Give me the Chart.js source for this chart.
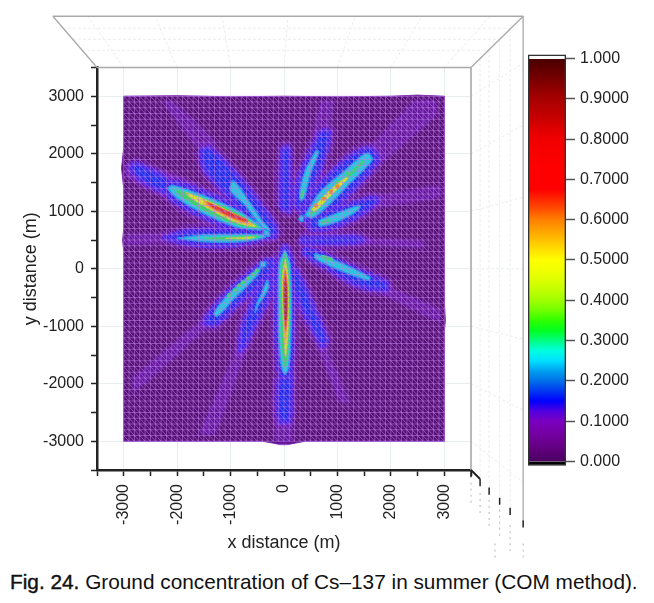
<!DOCTYPE html>
<html>
<head>
<meta charset="utf-8">
<script src="https://cdn.jsdelivr.net/npm/chart.js@4"></script>
<style>
    html, body { margin: 0; padding: 0; background: #fff; }
    body { width: 654px; height: 603px; position: relative; overflow: hidden; }
    #surface { position: absolute; left: 0; top: 0; filter: blur(0.5px); }
    #colorbar { position: absolute; left: 528px; top: 40px; filter: blur(0.3px); }
    #caption { position: absolute; left: 10px; top: 570px; white-space: nowrap; color: #111;
        font: 20.8px "Liberation Sans", sans-serif; }
    #caption b { font-weight: 400; -webkit-text-stroke: 0.4px #111; }
</style>
</head>
<body>
<canvas id="surface" width="654" height="565"></canvas>
<canvas id="colorbar" width="126" height="440"></canvas>
<div id="caption"><b>Fig. 24.</b> Ground concentration of Cs–137 in summer (COM method).</div>
<script>
// contour outlines in metres: [x, y]
const groundOutline = [[-3000,3000],[-2000,3010],[-1000,2990],[0,3000],[1000,2990],[2000,3000],[2500,3020],[3000,3000],[3000,2000],[3010,500],[3000,-600],[3020,-900],[3000,-1100],[3000,-3000],[1000,-3000],[400,-3000],[100,-3050],[-100,-3050],[-400,-3000],[-3000,-3000],[-3000,300],[-3020,500],[-3000,700],[-3000,1400],[-3040,1750],[-3000,2100]];

const faintRays = [
    [[-2950,1850],[-2000,1620],[-300,700],[-300,600],[-2000,1200],[-2950,1600]],
    [[-2250,2900],[-2100,2900],[-1300,2200],[-1500,2000]],
    [[1500,2000],[2450,2900],[2800,2920],[2850,2700],[1800,1850]],
    [[550,2300],[700,2900],[900,2900],[800,2300]],
    [[-2940,580],[-2200,600],[-2200,470],[-2940,430]],
    [[-1400,-800],[-2800,-1900],[-2800,-2120],[-1500,-1050]],
    [[-850,-1350],[-1550,-2850],[-1300,-2850],[-700,-1350]],
    [[750,-1300],[1200,-2300],[1050,-2300],[650,-1350]],
    [[1850,-280],[2900,-720],[2900,-900],[1850,-420]],
    [[1550,1220],[2900,1430],[2900,1250],[1700,1080]],
    [[1300,530],[2600,470],[2600,380],[1300,450]],
    [[-110,-1900],[130,-1900],[150,-3000],[0,-3030],[-160,-3000]]
];

const blueBands = [
    [[-2300,1420],[-2080,1510],[-1520,1350],[-880,1090],[-400,820],[-330,680],[-450,620],[-880,660],[-1520,900],[-2050,1170]],
    [[-2850,1830],[-2700,1810],[-2200,1560],[-2200,1350],[-2500,1440],[-2850,1700]],
    [[-1570,2060],[-1390,2100],[-820,1570],[-170,760],[-150,580],[-360,580],[-970,1190],[-1480,1710]],
    [[-2270,540],[-1800,660],[-1000,680],[-350,650],[-250,560],[-1000,400],[-1800,430]],
    [[320,930],[600,1400],[1140,1890],[1520,2100],[1670,2060],[1760,1890],[1330,1400],[860,980],[520,770]],
    [[710,2410],[860,2370],[710,1800],[450,1280],[300,1040],[210,1100],[260,1530],[490,2050]],
    [[490,900],[1140,1100],[1650,1240],[1760,1190],[1420,930],[860,700],[490,700]],
    [[390,370],[670,290],[1420,-30],[1930,-250],[1890,-370],[1370,-290],[770,30],[390,240]],
    [[300,530],[1300,560],[1500,500],[1200,440],[350,450]],
    [[-70,1060],[-60,1700],[-20,2100],[90,2100],[110,1600],[100,1000]],
    [[20,430],[170,100],[190,-500],[170,-1200],[130,-1800],[60,-2050],[-10,-2050],[-90,-1800],[-140,-1200],[-160,-500],[-130,100]],
    [[-90,-1900],[120,-1900],[130,-2300],[90,-2650],[-70,-2650],[-130,-2300]],
    [[-300,180],[-190,110],[-360,-200],[-820,-580],[-1290,-980],[-1480,-930],[-1290,-640],[-820,-200]],
    [[-360,-110],[-220,-200],[-300,-550],[-540,-980],[-730,-1330],[-820,-1420],[-770,-980],[-540,-460]],
    [[210,10],[340,-200],[580,-720],[800,-1240],[710,-1330],[450,-900],[210,-410],[110,-110]]
];

const cyanBands = [
    [[-2190,1400],[-2080,1450],[-1520,1280],[-880,1020],[-450,760],[-400,690],[-450,670],[-880,720],[-1520,965],[-2000,1225]],
    [[-970,1540],[-860,1450],[-410,840],[-260,670],[-360,670],[-730,1100],[-1010,1365]],
    [[-2000,530],[-1500,590],[-800,600],[-350,590],[-360,540],[-800,470],[-1500,470]],
    [[390,930],[670,1330],[1140,1710],[1460,1970],[1570,2010],[1650,1890],[1240,1490],[770,1050],[520,880]],
    [[600,2060],[650,2030],[490,1630],[380,1240],[320,1190],[300,1370],[410,1740]],
    [[640,840],[1140,1020],[1420,1100],[1390,1020],[1050,840],[670,740]],
    [[580,270],[1050,110],[1610,-150],[1570,-200],[1050,-30],[580,180]],
    [[20,330],[110,100],[140,-500],[130,-1200],[90,-1700],[20,-1840],[-50,-1700],[-100,-1200],[-110,-500],[-90,100]],
    [[-540,-30],[-430,40],[-490,-100],[-920,-510],[-1250,-830],[-1310,-770],[-1010,-410]],
    [[-320,-200],[-280,-290],[-360,-460],[-490,-640],[-540,-760],[-520,-640],[-410,-410]],
    [[-380,700],[-280,640],[-270,570],[-370,590]],
    [[-440,120],[-350,120],[-350,40],[-440,40]],
    [[310,930],[370,900],[340,820],[280,860]]
];

const greenBands = [
    [[-2050,1390],[-1500,1230],[-880,980],[-480,740],[-470,700],[-880,760],[-1500,1010],[-1950,1270]],
    [[-1500,540],[-800,570],[-450,570],[-480,540],[-800,500],[-1400,505]],
    [[470,965],[790,1310],[1240,1680],[1460,1870],[1520,1870],[1120,1500],[770,1180],[520,930]],
    [[340,1365],[375,1365],[340,1225],[300,1240]],
    [[710,825],[860,860],[860,825],[710,775]],
    [[710,235],[900,185],[900,130],[710,185]],
    [[20,300],[90,50],[110,-500],[100,-1200],[60,-1600],[20,-1740],[-20,-1600],[-60,-1200],[-70,-500],[-50,50]]
];

const yellowBands = [
    [[-1830,1330],[-1400,1170],[-880,930],[-520,735],[-880,800],[-1400,1040],[-1800,1270]],
    [[-1100,530],[-700,550],[-550,550],[-700,520]],
    [[520,1035],[860,1365],[1140,1575],[1200,1575],[860,1260],[580,1000]],
    [[25,170],[70,-100],[85,-500],[75,-1100],[30,-1530],[0,-1200],[-30,-500],[-30,-100]]
];

const orangeBands = [
    [[-1500,1190],[-880,890],[-600,760],[-880,830],[-1450,1090]],
    [[25,40],[60,-200],[70,-600],[55,-1000],[30,-1290],[10,-1000],[-15,-500],[-15,-150]]
];

const redBands = [
    [[-1440,1165],[-1000,980],[-690,850],[-680,810],[-1000,900],[-1400,1100]],
    [[25,-30],[60,-300],[60,-800],[30,-1080],[5,-800],[-10,-300]]
];

const darkBands = [
    [[30,-200],[50,-500],[45,-800],[25,-900],[10,-700],[5,-400]]
];

const greenSpots = [[-510,-30],[-580,-100],[-670,-165],[-770,-235],[-840,-290],[-920,-375],[-1030,-460],[1000,1500],[1200,1660]];
const orangeSpots = [[600,1100],[750,1220],[880,1340],[1000,1430]];

// colour bar, bottom to top
const barColors = ['#4a0062','#5c0078','#6c0090','#7600a8','#7a00c0','#5000e0','#0000ff','#0038f0','#0070e8','#00a0f0',
    '#00e0ff','#00ffe0','#00ff80','#00ff20','#30ff00','#70ff00','#a0ff00','#c0ff00','#dcff00','#f0ff00',
    '#ffff00','#ffe000','#ffc000','#ffa000','#ff8000','#ff5000','#ff2800','#ff0000','#ff0000','#ff0000',
    '#fb0000','#f60000','#f00000','#e00000','#c80000','#b80000','#a80000','#900000','#780000','#600000','#480000'];
const barTicks = [0, 0.1, 0.2, 0.3, 0.4, 0.5, 0.6, 0.7, 0.8, 0.9, 1];

// walls of the 3D box, in metres
const boxEdges = [
    [[-3500,3500],[3500,3500]],
    [[-3500,3500],[-4326,4391]],
    [[-4326,4391],[4476,4391]],
    [[4476,4391],[3500,3500]],
    [[3500,3500],[3500,-3500]],
    [[4476,4391],[4476,-4374]]
];
const boxFloorEdge = [[3500,-3500],[3670,-3656],[3839,-3805],[4036,-3981],[4232,-4157],[4476,-4374]];
const wallLines = [
    [[-3000,3500],[-3670,4391]], [[-2000,3500],[-2416,4391]], [[-1000,3500],[-1161,4391]], [[0,3500],[75,4391]],
    [[1000,3500],[1330,4391]], [[2000,3500],[2584,4391]], [[3000,3500],[3858,4391]],
    [[-4139,4183],[4251,4183]], [[-3951,3991],[4045,3991]], [[-3783,3800],[3839,3800]],
    [[3500,3000],[4476,3574]], [[3500,2000],[4476,2496]], [[3500,1000],[4476,1243]], [[3500,0],[4476,0]],
    [[3500,-1000],[4476,-1226]], [[3500,-2000],[4476,-2461]], [[3500,-3000],[4476,-3713]],
    [[3670,3650],[3670,-3656]], [[3839,3805],[3839,-3805]], [[4036,3986],[4036,-3981]], [[4232,4174],[4232,-4157]]
];
const stubLabels = [
    [[3500,-3720],[3500,-4140]], [[3670,-3900],[3670,-4300]], [[3839,-4020],[3839,-4480]], [[4036,-4190],[4036,-4680]],
    [[4232,-4460],[4232,-4930]], [[4476,-4780],[4476,-5030]], [[3950,-4780],[3950,-5030]]
];

const meshStep = 100;
const meshEdge = 3000;

function toPoints(pairs) {
    return pairs.map(p => ({ x: p[0], y: p[1] }));
}

function band(pairs, color, halo, haloWidth, tension) {
    return {
        data: toPoints(pairs.concat([pairs[0]])),
        showLine: true,
        fill: 'shape',
        tension: tension === undefined ? 0.3 : tension,
        backgroundColor: color,
        borderColor: halo || color,
        borderWidth: haloWidth || 1,
        pointRadius: 0
    };
}

function plainLine(pairs, color, width, dash) {
    return {
        data: toPoints(pairs),
        showLine: true,
        fill: false,
        clip: false,
        borderColor: color,
        borderWidth: width,
        borderDash: dash || [],
        pointRadius: 0
    };
}

function spots(pairs, color, size) {
    return { data: toPoints(pairs), showLine: false, pointRadius: size, pointBackgroundColor: color, pointBorderWidth: 0 };
}

// triangle wire frame over the surface
function meshLines() {
    const pts = [];
    const gap = { x: NaN, y: NaN };
    for (let k = -meshEdge; k <= meshEdge; k += meshStep) {
        pts.push({ x: -meshEdge, y: k }, { x: meshEdge, y: k }, gap);
        pts.push({ x: k, y: -meshEdge }, { x: k, y: meshEdge }, gap);
    }
    for (let c = -2 * meshEdge; c <= 2 * meshEdge; c += meshStep) {
        if (c >= 0) pts.push({ x: c - meshEdge, y: meshEdge }, { x: meshEdge, y: c - meshEdge }, gap);
        else pts.push({ x: -meshEdge, y: c + meshEdge }, { x: c + meshEdge, y: -meshEdge }, gap);
    }
    return { data: pts, showLine: true, fill: false, spanGaps: false, borderColor: 'rgba(190,130,235,0.55)', borderWidth: 1, pointRadius: 0 };
}

const layers = [];
wallLines.forEach(l => layers.push(plainLine(l, '#e9edef', 1, [3, 2])));
stubLabels.forEach(l => layers.push(plainLine(l, '#b8b8b8', 1, [2, 4])));
boxEdges.forEach((l, i) => layers.push(plainLine(l, '#a9a9a9', i === 4 ? 1.6 : 1.3)));
layers.push(plainLine(boxFloorEdge, '#222', 2));
boxFloorEdge.forEach(p => layers.push(plainLine([p, [p[0], p[1] - 125]], '#222', 1.5)));
layers.push(band(groundOutline, '#560f72', '#7a2ab0', 1, 0));
faintRays.forEach(r => layers.push(band(r, 'rgba(118,34,210,0.42)', 'rgba(118,34,210,0.2)', 6, 0.1)));
blueBands.forEach(r => layers.push(band(r, 'rgba(118,34,220,0.6)', 'rgba(118,34,220,0.32)', 13)));
blueBands.forEach(r => layers.push(band(r, '#1a2cec', 'rgba(70,34,232,0.8)', 5)));
cyanBands.forEach(r => layers.push(band(r, '#1ccbdc', '#1690ea', 1.5)));
greenBands.forEach(r => layers.push(band(r, '#2adc58', '#22e0a8', 1)));
layers.push(spots(greenSpots, '#34e050', 2));
yellowBands.forEach(r => layers.push(band(r, '#e0e824', '#a8e830', 1)));
orangeBands.forEach(r => layers.push(band(r, '#f09a22', '#f0c020', 1)));
layers.push(spots(orangeSpots, '#ee8a24', 2.2));
redBands.forEach(r => layers.push(band(r, '#e42c20', '#ee6a20', 1)));
darkBands.forEach(r => layers.push(band(r, '#a62a1c')));
layers.push(meshLines());
layers.forEach((d, i) => { d.order = layers.length - i; });

function axisTick(value) {
    return value % 1000 === 0 ? String(value) : '';
}

function majorGrid(ctx) {
    return ctx.tick && ctx.tick.value % 1000 === 0 && Math.abs(ctx.tick.value) < 3500 ? '#e8edf0' : 'rgba(0,0,0,0)';
}

const axisFont = { family: '"Liberation Sans", Arial, sans-serif', size: 16 };
const titleFont = { family: '"Liberation Sans", Arial, sans-serif', size: 18 };

new Chart(document.getElementById('surface'), {
    type: 'scatter',
    data: { datasets: layers },
    options: {
        responsive: false,
        animation: false,
        layout: { padding: { top: 67.5, right: 183, left: 0, bottom: 0 } },
        plugins: { legend: { display: false }, tooltip: { enabled: false } },
        scales: {
            x: {
                min: -3500, max: 3500,
                afterFit: s => { s.height = 95; },
                border: { color: '#222', width: 2.5 },
                grid: { color: majorGrid, tickColor: '#222', tickWidth: 1.5, tickLength: 6 },
                ticks: { stepSize: 500, autoSkip: false, minRotation: 90, maxRotation: 90, padding: 8, color: '#222', font: axisFont, callback: axisTick },
                title: { display: true, text: 'x distance (m)', color: '#222', font: titleFont, padding: { top: 0, bottom: 11 } }
            },
            y: {
                min: -3500, max: 3500,
                afterFit: s => { s.width = 97; },
                border: { color: '#222', width: 2.5 },
                grid: { color: majorGrid, tickColor: '#222', tickWidth: 1.5, tickLength: 6 },
                ticks: { stepSize: 500, autoSkip: false, padding: 7, color: '#222', font: axisFont, callback: axisTick },
                title: { display: true, text: 'y distance (m)', color: '#222', font: titleFont, padding: { top: 20, bottom: 0 } }
            }
        }
    }
});

// the scale runs a little past 0 and 1 for the black and white end caps
const lowEdge = -0.00985;
const highEdge = 1.00985;

function barGradient(ctx) {
    const area = ctx.chart.chartArea;
    if (!area) return barColors[0];
    const y = ctx.chart.scales.y;
    const g = ctx.chart.ctx.createLinearGradient(0, y.getPixelForValue(0), 0, y.getPixelForValue(1));
    barColors.forEach((c, i) => g.addColorStop(i / (barColors.length - 1), c));
    return g;
}

const barSets = [
    { data: [[lowEdge, 0]], backgroundColor: '#000' },
    { data: [[0, 1]], backgroundColor: barGradient },
    { data: [[1, highEdge]], backgroundColor: '#fff' },
    { data: [[lowEdge, highEdge]], backgroundColor: 'rgba(0,0,0,0)', borderColor: '#333', borderWidth: 1, borderSkipped: false }
];
barSets.forEach((d, i) => { d.order = barSets.length - i; });

new Chart(document.getElementById('colorbar'), {
    type: 'bar',
    data: { labels: ['c'], datasets: barSets },
    options: {
        responsive: false,
        animation: false,
        datasets: { bar: { grouped: false, barPercentage: 1, categoryPercentage: 1 } },
        layout: { padding: { top: 13, bottom: 13 } },
        plugins: { legend: { display: false }, tooltip: { enabled: false } },
        scales: {
            x: { display: false },
            y: {
                position: 'right',
                min: lowEdge, max: highEdge,
                afterFit: s => { s.width = 88; },
                afterBuildTicks: s => { s.ticks = barTicks.map(v => ({ value: v })); },
                border: { display: false },
                grid: { drawOnChartArea: false, tickColor: '#555', tickWidth: 1.5, tickLength: 9 },
                ticks: {
                    padding: 5, color: '#222', font: axisFont,
                    callback: v => (v === 0 || v === 1 ? v.toFixed(3) : v.toFixed(4))
                }
            }
        }
    }
});
</script>
</body>
</html>
